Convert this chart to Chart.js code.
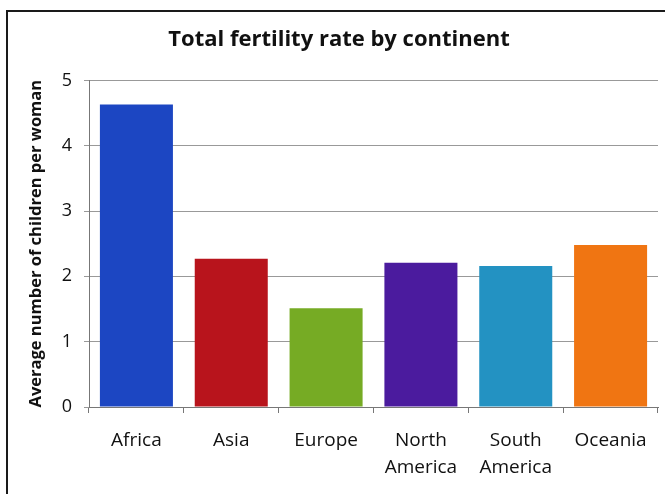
<!DOCTYPE html>
<html>
<head>
<meta charset="utf-8">
<script src="https://cdn.jsdelivr.net/npm/chart.js@4"></script>
<style>
    html, body { margin: 0; padding: 0; background: #fff; }
    #wrap { position: relative; width: 665px; height: 494px; overflow: hidden; }
    #frame {
        position: absolute; left: 6px; top: 10px; width: 700px; height: 600px;
        border: 2px solid #1a1a1a; box-sizing: border-box;
    }
    canvas { position: absolute; left: 0; top: 0; }
</style>
</head>
<body>
<div id="wrap">
    <div id="frame"></div>
    <canvas id="myChart" width="665" height="494"></canvas>
</div>
<script>
let labels = ['Africa', 'Asia', 'Europe', ['North', 'America'], ['South', 'America'], 'Oceania'];
let data = [4.63, 2.27, 1.51, 2.21, 2.16, 2.48];
let colors = ['#1c46c2', '#b8141c', '#76ab24', '#4b1b9e', '#2392c2', '#f07512'];
let yTicks = [0, 1, 2, 3, 4, 5];

let font = '"Open Sans", "Noto Sans", sans-serif';

let ctx = document.getElementById('myChart').getContext('2d');

let chart = new Chart(ctx, {
    type: 'bar',
    data: {
        labels: labels,
        datasets: [{
            data: data,
            backgroundColor: colors,
            categoryPercentage: 1,
            barPercentage: 0.77
        }]
    },
    options: {
        responsive: false,
        animation: false,
        layout: { padding: { top: 27, left: 20, right: 7, bottom: 0 } },
        plugins: {
            legend: { display: false },
            tooltip: { enabled: false },
            title: {
                display: true,
                text: 'Total fertility rate by continent',
                color: '#111',
                font: { family: font, size: 22, weight: 'bold' },
                padding: { top: 0, bottom: 27 }
            }
        },
        scales: {
            x: {
                grid: {
                    drawOnChartArea: false,
                    drawTicks: true,
                    tickLength: 6,
                    color: '#777'
                },
                border: { color: '#777' },
                ticks: {
                    color: '#111',
                    padding: 14,
                    maxRotation: 0,
                    autoSkip: false,
                    font: { family: font, size: 19, lineHeight: 1.42 }
                },
                afterFit: function (scale) { scale.height = 87; }
            },
            y: {
                min: 0,
                max: 5,
                grid: { color: '#999', tickLength: 5 },
                border: { color: '#777' },
                afterBuildTicks: function (scale) {
                    scale.ticks = yTicks.map(function (v) { return { value: v }; });
                },
                ticks: {
                    color: '#111',
                    padding: 12,
                    font: { family: font, size: 18 }
                },
                title: {
                    display: true,
                    text: 'Average number of children per woman',
                    color: '#111',
                    font: { family: font, size: 16.5, weight: 'bold' },
                    padding: { top: 6, bottom: 4 }
                },
                afterFit: function (scale) { scale.width = 69; }
            }
        }
    }
});
</script>
</body>
</html>
